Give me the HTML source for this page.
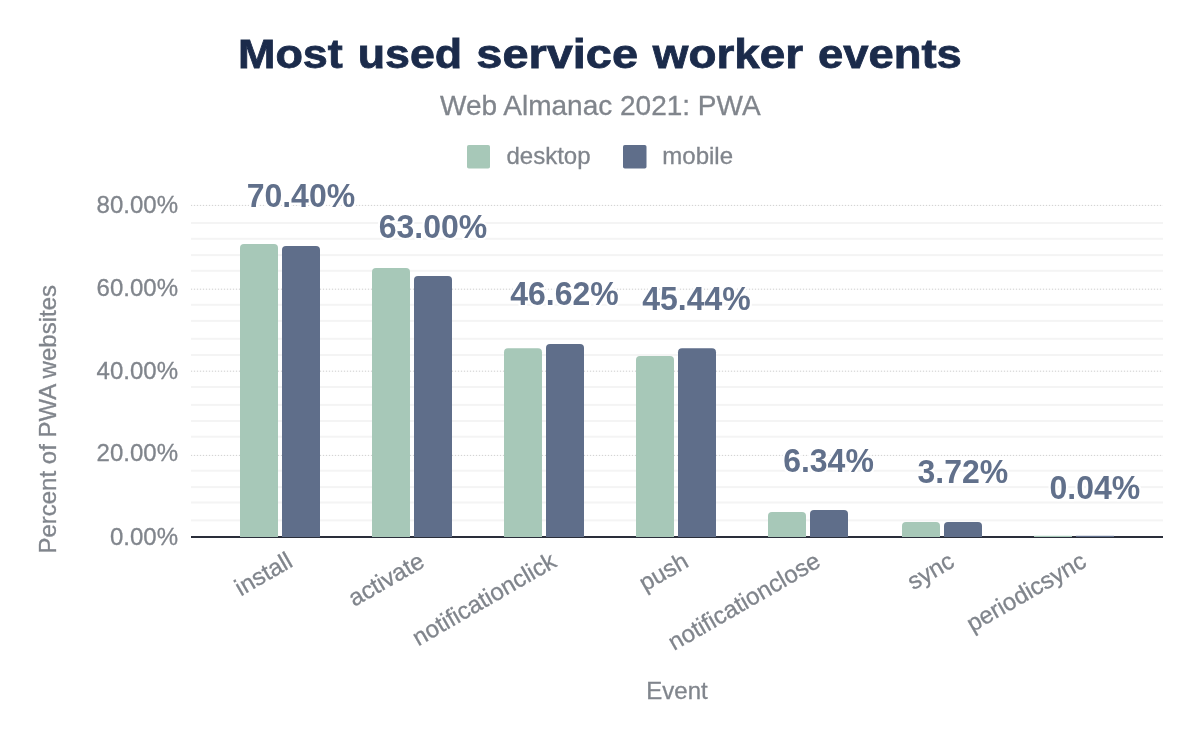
<!DOCTYPE html>
<html><head><meta charset="utf-8"><title>Most used service worker events</title>
<style>
html,body{margin:0;padding:0;background:#fff;}
body{width:1200px;height:742px;overflow:hidden;}
svg{display:block;will-change:transform;}
text{font-family:"Liberation Sans",Arial,Helvetica,sans-serif;}
.ax{font-size:24px;fill:#80858c;stroke:#80858c;stroke-width:0.3px;}
.dl{font-size:33px;font-weight:bold;fill:#61708b;stroke:#fff;stroke-width:4.5px;stroke-linejoin:round;paint-order:stroke;}
.ttl{font-size:40.4px;font-weight:bold;fill:#1b2b4b;stroke:#1b2b4b;stroke-width:0.8px;}
.sub{font-size:28px;fill:#80858c;stroke:#80858c;stroke-width:0.3px;}
</style></head>
<body>
<svg width="1200" height="742" viewBox="0 0 1200 742">
<rect width="1200" height="742" fill="#ffffff"/>
<text class="ttl" y="68.4"><tspan x="238.00" textLength="104.80" lengthAdjust="spacingAndGlyphs">Most</tspan> <tspan x="357.70" textLength="104.40" lengthAdjust="spacingAndGlyphs">used</tspan> <tspan x="476.30" textLength="161.70" lengthAdjust="spacingAndGlyphs">service</tspan> <tspan x="652.80" textLength="150.20" lengthAdjust="spacingAndGlyphs">worker</tspan> <tspan x="817.90" textLength="143.90" lengthAdjust="spacingAndGlyphs">events</tspan></text>
<text x="600.3" y="114.6" text-anchor="middle" class="sub">Web Almanac 2021: PWA</text>
<rect x="467" y="145" width="23" height="23.5" rx="1.8" fill="#a7c8b8"/>
<text x="506.5" y="163.7" class="ax">desktop</text>
<rect x="623" y="145" width="23.5" height="23.5" rx="1.8" fill="#5f6e8a"/>
<text x="662.3" y="163.7" class="ax">mobile</text>
<rect x="191" y="222.00" width="972" height="2" fill="#f4f4f4"/>
<rect x="191" y="237.80" width="972" height="2" fill="#f4f4f4"/>
<rect x="191" y="254.10" width="972" height="2" fill="#f4f4f4"/>
<rect x="191" y="269.80" width="972" height="2" fill="#f4f4f4"/>
<rect x="191" y="303.80" width="972" height="2" fill="#f4f4f4"/>
<rect x="191" y="319.90" width="972" height="2" fill="#f4f4f4"/>
<rect x="191" y="337.80" width="972" height="2" fill="#f4f4f4"/>
<rect x="191" y="354.00" width="972" height="2" fill="#f4f4f4"/>
<rect x="191" y="386.00" width="972" height="2" fill="#f4f4f4"/>
<rect x="191" y="403.90" width="972" height="2" fill="#f4f4f4"/>
<rect x="191" y="420.00" width="972" height="2" fill="#f4f4f4"/>
<rect x="191" y="435.70" width="972" height="2" fill="#f4f4f4"/>
<rect x="191" y="469.70" width="972" height="2" fill="#f4f4f4"/>
<rect x="191" y="486.10" width="972" height="2" fill="#f4f4f4"/>
<rect x="191" y="501.50" width="972" height="2" fill="#f4f4f4"/>
<rect x="191" y="519.40" width="972" height="2" fill="#f4f4f4"/>
<rect x="191" y="204.90" width="972" height="1" fill="#f8f8f8"/>
<line x1="191" y1="205.40" x2="1163" y2="205.40" stroke="#d0d0d0" stroke-width="1" stroke-dasharray="1 2"/>
<rect x="191" y="288.70" width="972" height="1" fill="#f8f8f8"/>
<line x1="191" y1="289.20" x2="1163" y2="289.20" stroke="#d0d0d0" stroke-width="1" stroke-dasharray="1 2"/>
<rect x="191" y="370.70" width="972" height="1" fill="#f8f8f8"/>
<line x1="191" y1="371.20" x2="1163" y2="371.20" stroke="#d0d0d0" stroke-width="1" stroke-dasharray="1 2"/>
<rect x="191" y="454.90" width="972" height="1" fill="#f8f8f8"/>
<line x1="191" y1="455.40" x2="1163" y2="455.40" stroke="#d0d0d0" stroke-width="1" stroke-dasharray="1 2"/>
<rect x="191" y="536" width="972" height="2" fill="#2a2e3a"/>
<path d="M240.00,537.0 L240.00,248.00 Q240.00,244.00 244.00,244.00 L274.00,244.00 Q278.00,244.00 278.00,248.00 L278.00,537.0 Z" fill="#a7c8b8"/>
<path d="M282.00,537.0 L282.00,250.00 Q282.00,246.00 286.00,246.00 L316.00,246.00 Q320.00,246.00 320.00,250.00 L320.00,537.0 Z" fill="#5f6e8a"/>
<path d="M372.00,537.0 L372.00,271.90 Q372.00,267.90 376.00,267.90 L406.00,267.90 Q410.00,267.90 410.00,271.90 L410.00,537.0 Z" fill="#a7c8b8"/>
<path d="M414.00,537.0 L414.00,280.00 Q414.00,276.00 418.00,276.00 L448.00,276.00 Q452.00,276.00 452.00,280.00 L452.00,537.0 Z" fill="#5f6e8a"/>
<path d="M504.00,537.0 L504.00,352.20 Q504.00,348.20 508.00,348.20 L538.00,348.20 Q542.00,348.20 542.00,352.20 L542.00,537.0 Z" fill="#a7c8b8"/>
<path d="M546.00,537.0 L546.00,348.00 Q546.00,344.00 550.00,344.00 L580.00,344.00 Q584.00,344.00 584.00,348.00 L584.00,537.0 Z" fill="#5f6e8a"/>
<path d="M636.00,537.0 L636.00,360.00 Q636.00,356.00 640.00,356.00 L670.00,356.00 Q674.00,356.00 674.00,360.00 L674.00,537.0 Z" fill="#a7c8b8"/>
<path d="M678.00,537.0 L678.00,352.20 Q678.00,348.20 682.00,348.20 L712.00,348.20 Q716.00,348.20 716.00,352.20 L716.00,537.0 Z" fill="#5f6e8a"/>
<path d="M768.00,537.0 L768.00,516.10 Q768.00,512.10 772.00,512.10 L802.00,512.10 Q806.00,512.10 806.00,516.10 L806.00,537.0 Z" fill="#a7c8b8"/>
<path d="M810.00,537.0 L810.00,514.00 Q810.00,510.00 814.00,510.00 L844.00,510.00 Q848.00,510.00 848.00,514.00 L848.00,537.0 Z" fill="#5f6e8a"/>
<path d="M902.00,537.0 L902.00,526.10 Q902.00,522.10 906.00,522.10 L936.00,522.10 Q940.00,522.10 940.00,526.10 L940.00,537.0 Z" fill="#a7c8b8"/>
<path d="M944.00,537.0 L944.00,526.10 Q944.00,522.10 948.00,522.10 L978.00,522.10 Q982.00,522.10 982.00,526.10 L982.00,537.0 Z" fill="#5f6e8a"/>
<rect x="1034.00" y="535.80" width="38" height="1.20" fill="#a7c8b8"/>
<rect x="1076.00" y="535.80" width="38" height="1.20" fill="#5f6e8a"/>
<text x="178" y="212.90" text-anchor="end" class="ax">80.00%</text>
<text x="178" y="296.00" text-anchor="end" class="ax">60.00%</text>
<text x="178" y="378.90" text-anchor="end" class="ax">40.00%</text>
<text x="178" y="461.20" text-anchor="end" class="ax">20.00%</text>
<text x="178" y="544.50" text-anchor="end" class="ax">0.00%</text>
<text transform="translate(300.90,207.00) scale(0.97,1)" text-anchor="middle" class="dl">70.40%</text>
<text transform="translate(433.00,238.00) scale(0.97,1)" text-anchor="middle" class="dl">63.00%</text>
<text transform="translate(564.50,305.00) scale(0.97,1)" text-anchor="middle" class="dl">46.62%</text>
<text transform="translate(696.50,310.00) scale(0.97,1)" text-anchor="middle" class="dl">45.44%</text>
<text transform="translate(828.50,471.70) scale(0.97,1)" text-anchor="middle" class="dl">6.34%</text>
<text transform="translate(962.90,482.80) scale(0.97,1)" text-anchor="middle" class="dl">3.72%</text>
<text transform="translate(1094.90,498.60) scale(0.97,1)" text-anchor="middle" class="dl">0.04%</text>
<text transform="translate(294.00,565.7) rotate(-30)" text-anchor="end" class="ax">install</text>
<text transform="translate(426.00,565.7) rotate(-30)" text-anchor="end" class="ax">activate</text>
<text transform="translate(558.00,565.7) rotate(-30)" text-anchor="end" class="ax">notificationclick</text>
<text transform="translate(690.00,565.7) rotate(-30)" text-anchor="end" class="ax">push</text>
<text transform="translate(822.00,565.7) rotate(-30)" text-anchor="end" class="ax">notificationclose</text>
<text transform="translate(956.00,565.7) rotate(-30)" text-anchor="end" class="ax">sync</text>
<text transform="translate(1088.00,565.7) rotate(-30)" text-anchor="end" class="ax">periodicsync</text>
<text x="677.0" y="699.4" text-anchor="middle" class="ax">Event</text>
<text transform="translate(56,419.3) rotate(-90)" text-anchor="middle" class="ax">Percent of PWA websites</text>
</svg>
</body></html>
